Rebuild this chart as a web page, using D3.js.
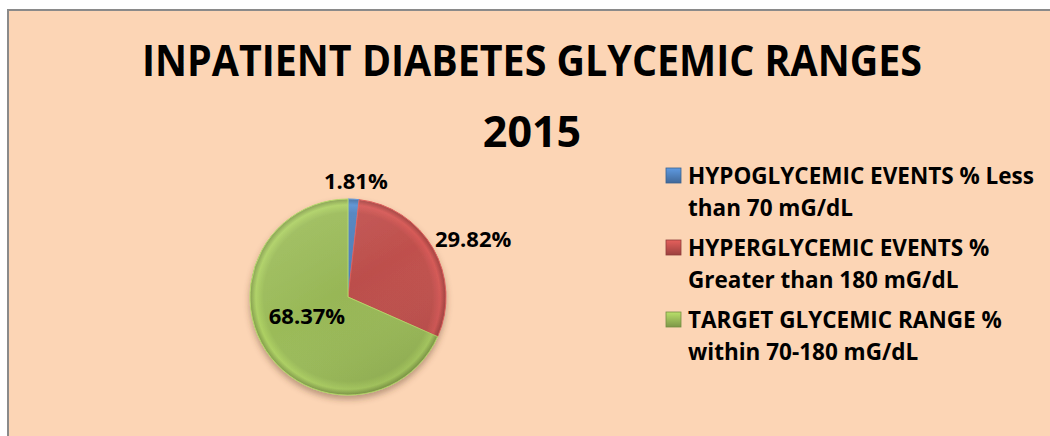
<!DOCTYPE html>
<html>
<head>
<meta charset="utf-8">
<script src="https://cdn.jsdelivr.net/npm/d3@7"></script>
<style>
  body { margin: 0; background: #fff; }
  svg { display: block; font-family: "Open Sans", Lato, sans-serif; }
</style>
</head>
<body>
<svg id="chart"></svg>
<script>
// chart data
const titleLines = ["INPATIENT DIABETES GLYCEMIC RANGES", "2015"];
const categories = ["HYPOGLYCEMIC", "HYPERGLYCEMIC", "TARGET"];
const legendLines = [
    ["HYPOGLYCEMIC EVENTS % Less", "than 70 mG/dL"],
    ["HYPERGLYCEMIC EVENTS %", "Greater than 180 mG/dL"],
    ["TARGET GLYCEMIC RANGE %", "within 70-180 mG/dL"]
];
const values = [1.81, 29.82, 68.37];
const colors = ["#4F81BD", "#C0504D", "#9BBB59"];

const width = 1050, height = 436;
const svg = d3.select("#chart").attr("width", width).attr("height", height);
const defs = svg.append("defs");

// chart area
svg.append("rect")
    .attr("x", 8).attr("y", 10)
    .attr("width", width + 10).attr("height", height + 10)
    .attr("fill", "#FCD5B5")
    .attr("stroke", "#8a8a8a")
    .attr("stroke-width", 2);

// title (Calibri is narrow, so squeeze the first line)
svg.selectAll(".title")
    .data(titleLines)
    .join("text")
    .attr("class", "title")
    .attr("x", 532)
    .attr("y", (d, i) => 76 + i * 71)
    .attr("text-anchor", "middle")
    .style("font-size", "43px")
    .style("font-weight", "bold")
    .text(d => d)
    .each(function (d, i) {
        if (i === 0) d3.select(this).attr("textLength", 780).attr("lengthAdjust", "spacingAndGlyphs");
    });

const cx = 348, cy = 297, r = 98;

// shadow + bevel gradients
const shadow = defs.append("filter").attr("id", "shadow")
    .attr("x", "-20%").attr("y", "-20%").attr("width", "140%").attr("height", "150%");
shadow.append("feDropShadow")
    .attr("dx", 0).attr("dy", 4).attr("stdDeviation", 3)
    .attr("flood-color", "#5a3a20").attr("flood-opacity", 0.4);

colors.forEach((c, i) => {
    const base = d3.color(c);
    const g = defs.append("radialGradient")
        .attr("id", "grad" + i)
        .attr("gradientUnits", "userSpaceOnUse")
        .attr("cx", 0).attr("cy", 0).attr("r", r);
    g.append("stop").attr("offset", "0%").attr("stop-color", base.darker(0.08));
    g.append("stop").attr("offset", "86%").attr("stop-color", base);
    g.append("stop").attr("offset", "94%").attr("stop-color", base.brighter(0.3));
    g.append("stop").attr("offset", "100%").attr("stop-color", base.darker(0.5));

    const lg = defs.append("linearGradient")
        .attr("id", "box" + i)
        .attr("x1", 0).attr("y1", 0).attr("x2", 0).attr("y2", 1);
    lg.append("stop").attr("offset", "0%").attr("stop-color", base.brighter(0.5));
    lg.append("stop").attr("offset", "50%").attr("stop-color", base);
    lg.append("stop").attr("offset", "100%").attr("stop-color", base.darker(0.6));
});

// soft top-left sheen over the whole pie
const sheen = defs.append("linearGradient")
    .attr("id", "sheen")
    .attr("x1", 0).attr("y1", 0).attr("x2", 0.6).attr("y2", 1);
sheen.append("stop").attr("offset", "0%").attr("stop-color", "#fff").attr("stop-opacity", 0.12);
sheen.append("stop").attr("offset", "55%").attr("stop-color", "#fff").attr("stop-opacity", 0);
sheen.append("stop").attr("offset", "100%").attr("stop-color", "#000").attr("stop-opacity", 0.08);

const pie = d3.pie().sort(null).value(d => d);
const arcs = pie(values);
const arc = d3.arc().innerRadius(0).outerRadius(r);

const pieG = svg.append("g")
    .attr("transform", `translate(${cx},${cy})`);

const slices = pieG.append("g").attr("filter", "url(#shadow)");
slices.selectAll("path")
    .data(arcs)
    .join("path")
    .attr("d", arc)
    .attr("fill", (d, i) => `url(#grad${i})`)
    .attr("stroke", (d, i) => d3.color(colors[i]).brighter(0.4))
    .attr("stroke-width", 1)
    .attr("stroke-linejoin", "round");

slices.append("circle")
    .attr("r", r)
    .attr("fill", "url(#sheen)")
    .attr("pointer-events", "none");

// labels: small slices outside, large slice inside
const pad = 8;
pieG.selectAll(".lbl")
    .data(arcs)
    .join("text")
    .attr("class", "lbl")
    .style("font-size", "22px")
    .style("font-weight", "bold")
    .attr("text-anchor", "middle")
    .attr("dy", "0.36em")
    .text(d => d.value.toFixed(2) + "%")
    .each(function (d) {
        const t = d3.select(this);
        if (d.value > 50) {
            const [x, y] = arc.centroid(d);
            t.attr("x", x).attr("y", y - 8);
        } else {
            const a = (d.startAngle + d.endAngle) / 2;
            const w = this.getComputedTextLength(), h = 20;
            const x = Math.sin(a) * (r + pad) + Math.sin(a) * w / 2;
            const y = -Math.cos(a) * (r + pad) - Math.cos(a) * h / 2;
            t.attr("x", x).attr("y", y);
        }
    });

// legend
const legend = svg.append("g").attr("transform", "translate(666,168)");
const item = legend.selectAll(".item")
    .data(categories)
    .join("g")
    .attr("class", "item")
    .attr("transform", (d, i) => `translate(0,${i * 72})`);

item.append("rect")
    .attr("width", 15).attr("height", 15)
    .attr("fill", (d, i) => `url(#box${i})`)
    .attr("stroke", (d, i) => d3.color(colors[i]).darker(0.8))
    .attr("stroke-width", 0.8);

item.append("text")
    .attr("x", 22)
    .style("font-size", "22.5px")
    .style("font-weight", "bold")
    .selectAll("tspan")
    .data((d, i) => legendLines[i])
    .join("tspan")
    .attr("x", 22)
    .attr("y", (d, j) => 16 + j * 32)
    .text(d => d);
</script>
</body>
</html>
